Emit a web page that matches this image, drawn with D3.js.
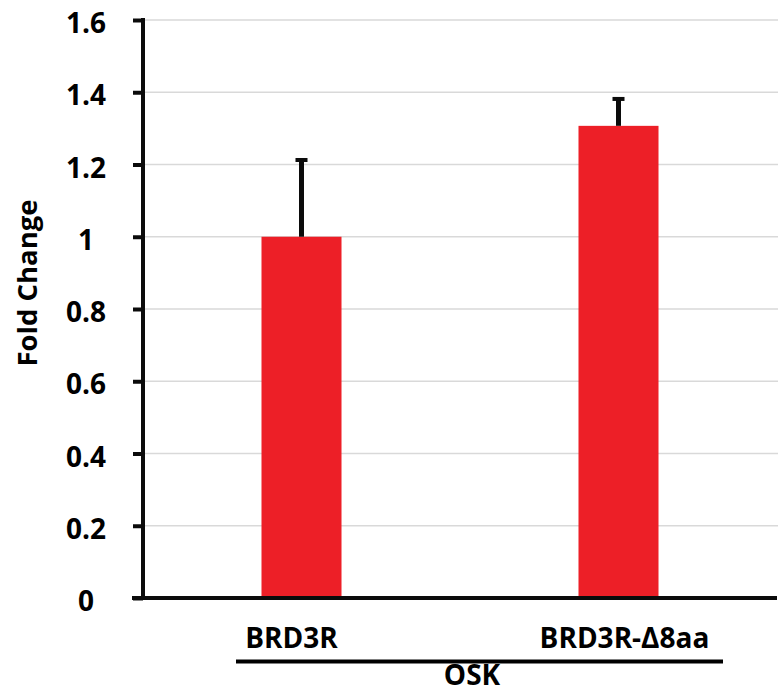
<!DOCTYPE html>
<html>
<head>
<meta charset="utf-8">
<script src="https://cdn.jsdelivr.net/npm/d3@7"></script>
<style>
  html, body { margin: 0; padding: 0; background: #fff; }
  svg { display: block; }
  text { font-family: "Open Sans", "Liberation Sans", sans-serif; font-weight: 700; fill: #000; }
</style>
</head>
<body>
<svg id="chart" width="778" height="692"></svg>
<script>
// Fold change of reporter activity with OSK
const categories = ["BRD3R", "BRD3R-\u03948aa"];
const foldChange = [1.0, 1.307];
const errorUp = [0.218, 0.08];
const yTicks = [0, 0.2, 0.4, 0.6, 0.8, 1, 1.2, 1.4, 1.6];
const yTickLabels = ["0", "0.2", "0.4", "0.6", "0.8", "1", "1.2", "1.4", "1.6"];
const yTitle = "Fold Change";
const groupLabel = "OSK";

(function draw() {
  const svg = d3.select("#chart");
  const plotL = 143, plotR = 777, plotT = 20, plotB = 598;
  const fontSize = 28;

  const y = d3.scaleLinear().domain([0, 1.6]).range([plotB, plotT]);
  const x = d3.scaleBand().domain(categories).range([plotL, plotR])
    .paddingInner(0.7476).paddingOuter(0.3738);

  // horizontal gridlines
  svg.append("g").selectAll("line").data(yTicks.filter(d => d > 0)).join("line")
    .attr("x1", plotL).attr("x2", 778)
    .attr("y1", d => y(d)).attr("y2", d => y(d))
    .attr("stroke", "#d9d9d9").attr("stroke-width", 1.6);

  // bars
  svg.append("g").selectAll("rect").data(categories).join("rect")
    .attr("x", d => x(d)).attr("width", x.bandwidth())
    .attr("y", (d, i) => y(foldChange[i]))
    .attr("height", (d, i) => y(0) - y(foldChange[i]))
    .attr("fill", "#ed1f27");

  // upper error bars
  const eb = svg.append("g");
  categories.forEach((c, i) => {
    const cx = x(c) + x.bandwidth() / 2;
    const yTop = y(foldChange[i] + errorUp[i]);
    eb.append("line")
      .attr("x1", cx).attr("x2", cx)
      .attr("y1", y(foldChange[i])).attr("y2", yTop + 2)
      .attr("stroke", "#0b0b0b").attr("stroke-width", 5);
    eb.append("rect")
      .attr("x", cx - 6).attr("width", 12)
      .attr("y", yTop).attr("height", 4)
      .attr("fill", "#0b0b0b");
  });

  // y axis
  const yAxis = d3.axisLeft(y).tickValues(yTicks).tickSize(10)
    .tickFormat((d, i) => yTickLabels[i]);
  const ya = svg.append("g").attr("transform", `translate(${plotL},0)`).call(yAxis);
  ya.select(".domain").remove();
  ya.selectAll(".tick line").attr("stroke", "#0b0b0b").attr("stroke-width", 4);
  ya.selectAll(".tick text")
    .attr("x", -57).attr("dy", null).attr("y", 12.5)
    .attr("text-anchor", "middle")
    .style("font-family", "'Open Sans', sans-serif").style("font-weight", 700)
    .style("font-size", fontSize + "px").attr("fill", "#000");

  svg.append("line")
    .attr("x1", plotL).attr("x2", plotL)
    .attr("y1", plotT - 2).attr("y2", plotB + 2)
    .attr("stroke", "#0b0b0b").attr("stroke-width", 4);

  // x axis baseline
  svg.append("line")
    .attr("x1", 132).attr("x2", plotR)
    .attr("y1", plotB).attr("y2", plotB)
    .attr("stroke", "#0b0b0b").attr("stroke-width", 4);

  // category labels
  const labelShift = [-10, 6];
  svg.append("g").selectAll("text").data(categories).join("text")
    .attr("x", (d, i) => x(d) + x.bandwidth() / 2 + labelShift[i])
    .attr("y", 647.5)
    .attr("text-anchor", "middle")
    .style("font-size", fontSize + "px")
    .text(d => d);

  // group bracket and label
  svg.append("line")
    .attr("x1", 236).attr("x2", 723)
    .attr("y1", 661.5).attr("y2", 661.5)
    .attr("stroke", "#000").attr("stroke-width", 4);
  svg.append("text")
    .attr("x", 472).attr("y", 684.5)
    .attr("text-anchor", "middle")
    .style("font-size", fontSize + "px")
    .text(groupLabel);

  // y axis title
  svg.append("text")
    .attr("transform", "translate(36.5,283) rotate(-90)")
    .attr("text-anchor", "middle")
    .style("font-size", "27.5px")
    .text(yTitle);
})();
</script>
</body>
</html>
